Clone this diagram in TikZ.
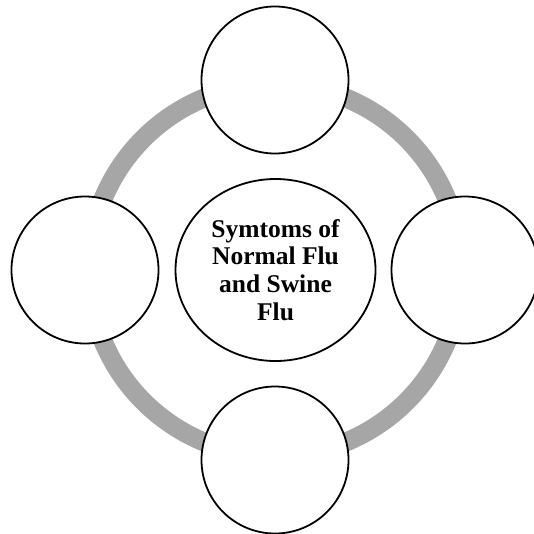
\documentclass[tikz,border=0pt]{standalone}
\usepackage{fontspec}
\setmainfont{Liberation Serif}
\usetikzlibrary{shapes.geometric}
\definecolor{ringgray}{RGB}{166,166,166}
\tikzset{
  ringline/.style={draw=ringgray, line width=19pt},
  satellite/.style={circle, draw=black, fill=white, line width=1.8pt, minimum size=147pt, inner sep=0pt},
  hub/.style={ellipse, draw=black, fill=white, line width=1.8pt, minimum width=200pt, minimum height=182pt, inner sep=0pt,
    align=center, font=\fontsize{25.5}{27.7}\selectfont\bfseries}
}
\begin{document}
\begin{tikzpicture}[x=1pt, y=-1pt]
  \clip (0,0) rectangle (534,533);
  \fill[white] (0,0) rectangle (534,533);
  \coordinate (c) at (275,270);
  \draw[ringline] (c) circle[radius=186pt];
  \node[satellite] (top) at (275,80) {};
  \node[satellite] (left) at (85,270) {};
  \node[satellite] (right) at (465,270) {};
  \node[satellite] (bottom) at (275,460) {};
  \node[hub] (hub) at (275.5,270) {Symtoms of\\Normal Flu\\and Swine\\Flu};
\end{tikzpicture}
\end{document}
